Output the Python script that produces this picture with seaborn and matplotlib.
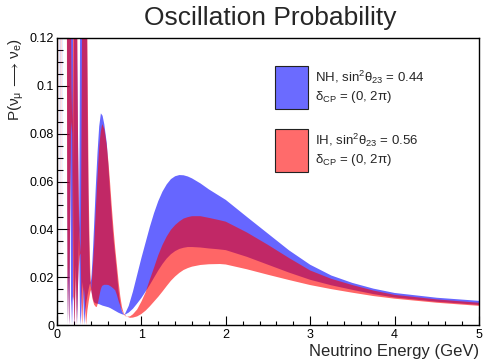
import numpy as np
import pandas as pd
import matplotlib
matplotlib.use("Agg")
import matplotlib.pyplot as plt
import seaborn as sns
from matplotlib.patches import Rectangle
from matplotlib.ticker import MultipleLocator

# ---------------- data ----------------
# NH band: energy (GeV), lower and upper edge of P(numu->nue) over delta_CP
nh_E = [0.010, 0.026, 0.0275, 0.029, 0.044, 0.0455, 0.047, 0.062, 0.0635, 0.065,
        0.116, 0.122, 0.128, 0.135, 0.142, 0.147, 0.153, 0.158, 0.163, 0.168,
        0.174, 0.180, 0.186, 0.189, 0.192, 0.195, 0.197, 0.200, 0.204, 0.207,
        0.213, 0.222, 0.230, 0.237, 0.244, 0.250, 0.256, 0.262, 0.266, 0.270,
        0.274, 0.282, 0.290, 0.300, 0.310, 0.318, 0.322, 0.330, 0.345, 0.355,
        0.362, 0.370, 0.378, 0.386, 0.395, 0.405, 0.410, 0.420, 0.430, 0.440,
        0.460, 0.480, 0.500, 0.520, 0.540, 0.560, 0.590, 0.610, 0.630, 0.650,
        0.670, 0.690, 0.710, 0.730, 0.750, 0.770, 0.790, 0.800, 0.850, 0.900,
        0.950, 1.000, 1.050, 1.100, 1.150, 1.200, 1.250, 1.300, 1.350, 1.400,
        1.450, 1.500, 1.550, 1.600, 1.700, 1.800, 1.900, 2.000, 2.250, 2.500,
        2.750, 3.000, 3.250, 3.500, 3.750, 4.000, 4.500, 5.000]
nh_lo = [0.200, 0.200, 0.000, 0.200, 0.200, 0.000, 0.200, 0.200, 0.000, 0.200,
         0.200, 0.050, 0.000, 0.020, 0.004, 0.000, 0.030, 0.070, 0.040, 0.000,
         0.008, 0.012, 0.003, 0.000, 0.025, 0.064, 0.035, 0.012, 0.002, 0.000,
         0.010, 0.025, 0.012, 0.000, 0.008, 0.018, 0.030, 0.040, 0.025, 0.012,
         0.004, 0.000, 0.008, 0.018, 0.014, 0.004, 0.000, 0.004, 0.009, 0.011,
         0.0125, 0.0140, 0.0155, 0.0168, 0.0175, 0.0150, 0.0138, 0.0120, 0.0105, 0.0095,
         0.0090, 0.0089, 0.0087, 0.0084, 0.0081, 0.0079, 0.0076, 0.0074, 0.0071, 0.0067,
         0.0063, 0.0059, 0.0055, 0.0051, 0.0048, 0.0045, 0.0043, 0.0042, 0.0052, 0.0068,
         0.0090, 0.0113, 0.0140, 0.0168, 0.0198, 0.0228, 0.0255, 0.0278, 0.0296, 0.0309,
         0.0318, 0.0323, 0.0326, 0.0326, 0.0324, 0.0320, 0.0317, 0.0313, 0.0285, 0.0252,
         0.0219, 0.0189, 0.0166, 0.0147, 0.0129, 0.0115, 0.0097, 0.0084]
nh_up = [0.300, 0.300, 0.300, 0.300, 0.300, 0.300, 0.300, 0.300, 0.300, 0.300,
         0.300, 0.300, 0.300, 0.300, 0.300, 0.300, 0.300, 0.300, 0.300, 0.300,
         0.300, 0.300, 0.300, 0.125, 0.095, 0.064, 0.085, 0.120, 0.300, 0.300,
         0.300, 0.300, 0.300, 0.125, 0.100, 0.075, 0.055, 0.040, 0.065, 0.095,
         0.125, 0.300, 0.300, 0.300, 0.300, 0.300, 0.300, 0.300, 0.300, 0.125,
         0.090, 0.060, 0.040, 0.026, 0.0175, 0.0190, 0.0210, 0.0270, 0.0340, 0.0420,
         0.0580, 0.0720, 0.0830, 0.0885, 0.0875, 0.0840, 0.0760, 0.0660, 0.0550, 0.0450,
         0.0360, 0.0290, 0.0220, 0.0140, 0.0090, 0.0058, 0.0045, 0.0042, 0.0080, 0.0140,
         0.0210, 0.0280, 0.0345, 0.0410, 0.0468, 0.0518, 0.0558, 0.0588, 0.0610, 0.0622,
         0.0627, 0.0626, 0.0621, 0.0613, 0.0592, 0.0567, 0.0545, 0.0523, 0.0452, 0.0382,
         0.0312, 0.0252, 0.0207, 0.0176, 0.0152, 0.0134, 0.0114, 0.0101]

# IH band
ih_E = [0.010, 0.020, 0.0215, 0.023, 0.038, 0.0395, 0.041, 0.056, 0.058, 0.060,
        0.114, 0.120, 0.126, 0.133, 0.140, 0.146, 0.152, 0.160, 0.166, 0.172,
        0.180, 0.186, 0.192, 0.200, 0.205, 0.210, 0.216, 0.224, 0.230, 0.235,
        0.242, 0.250, 0.260, 0.270, 0.280, 0.285, 0.290, 0.296, 0.300, 0.308,
        0.318, 0.328, 0.338, 0.345, 0.352, 0.360, 0.368, 0.376, 0.386, 0.395,
        0.405, 0.420, 0.440, 0.460, 0.470, 0.480, 0.490, 0.500, 0.510, 0.520,
        0.530, 0.537, 0.560, 0.570, 0.590, 0.610, 0.630, 0.650, 0.670, 0.690,
        0.710, 0.730, 0.750, 0.770, 0.790, 0.810, 0.830, 0.865, 0.900, 0.950,
        1.000, 1.050, 1.100, 1.150, 1.200, 1.250, 1.300, 1.350, 1.400, 1.450,
        1.500, 1.550, 1.600, 1.700, 1.800, 1.930, 2.000, 2.250, 2.500, 2.750,
        3.000, 3.250, 3.500, 3.750, 4.000, 4.500, 5.000]
ih_lo = [0.200, 0.200, 0.000, 0.200, 0.200, 0.000, 0.200, 0.200, 0.000, 0.200,
         0.200, 0.060, 0.000, 0.025, 0.005, 0.000, 0.030, 0.060, 0.080, 0.085,
         0.080, 0.040, 0.010, 0.012, 0.003, 0.000, 0.010, 0.020, 0.008, 0.000,
         0.008, 0.018, 0.025, 0.029, 0.030, 0.020, 0.010, 0.002, 0.000, 0.008,
         0.016, 0.012, 0.004, 0.000, 0.003, 0.006, 0.008, 0.010, 0.012, 0.0138,
         0.0148, 0.0110, 0.0085, 0.0076, 0.0075, 0.0085, 0.0100, 0.0118, 0.0135, 0.0150,
         0.0160, 0.0164, 0.0168, 0.0168, 0.0168, 0.0167, 0.0163, 0.0158, 0.0152, 0.0145,
         0.0125, 0.0100, 0.0080, 0.0060, 0.0045, 0.0037, 0.0035, 0.0030, 0.0031, 0.0036,
         0.0046, 0.0060, 0.0078, 0.0098, 0.0118, 0.0140, 0.0163, 0.0185, 0.0203, 0.0218,
         0.0230, 0.0238, 0.0244, 0.0251, 0.0254, 0.0255, 0.0253, 0.0233, 0.0210, 0.0188,
         0.0167, 0.0150, 0.0135, 0.0121, 0.0110, 0.0093, 0.0080]
ih_up = [0.300, 0.300, 0.300, 0.300, 0.300, 0.300, 0.300, 0.300, 0.300, 0.300,
         0.300, 0.300, 0.300, 0.300, 0.300, 0.300, 0.300, 0.300, 0.130, 0.100,
         0.085, 0.100, 0.130, 0.300, 0.300, 0.300, 0.300, 0.300, 0.300, 0.300,
         0.110, 0.075, 0.050, 0.036, 0.030, 0.050, 0.080, 0.120, 0.300, 0.300,
         0.300, 0.300, 0.300, 0.300, 0.300, 0.120, 0.085, 0.055, 0.035, 0.022,
         0.0148, 0.0220, 0.0330, 0.0480, 0.0550, 0.0620, 0.0680, 0.0740, 0.0780, 0.0810,
         0.0830, 0.0840, 0.0820, 0.0800, 0.0750, 0.0680, 0.0590, 0.0490, 0.0400, 0.0320,
         0.0250, 0.0180, 0.0120, 0.0075, 0.0050, 0.0040, 0.0035, 0.0036, 0.0045, 0.0065,
         0.0098, 0.0137, 0.0190, 0.0240, 0.0292, 0.0335, 0.0370, 0.0398, 0.0418, 0.0433,
         0.0445, 0.0451, 0.0455, 0.0455, 0.0448, 0.0438, 0.0432, 0.0387, 0.0335, 0.0280,
         0.0228, 0.0193, 0.0167, 0.0144, 0.0126, 0.0107, 0.0093]

legend_lines = [("NH, sin$^{2}\\theta_{23}$ = 0.44", "$\\delta_{CP}$ = (0, 2$\\pi$)"),
                ("IH, sin$^{2}\\theta_{23}$ = 0.56", "$\\delta_{CP}$ = (0, 2$\\pi$)")]
x_ticks = [0, 1, 2, 3, 4, 5]
y_ticks = [0, 0.02, 0.04, 0.06, 0.08, 0.1, 0.12]
y_ticklabels = ["0", "0.02", "0.04", "0.06", "0.08", "0.1", "0.12"]

# ---------------- long-form table: band = min..max per energy ----------------
rows = []
for name, E, lo, up in (("NH", nh_E, nh_lo, nh_up), ("IH", ih_E, ih_lo, ih_up)):
    for e, a, b in zip(E, lo, up):
        rows.append((name, e, a))
        rows.append((name, e, b))
df = pd.DataFrame(rows, columns=["hier", "E", "P"])

sns.set_theme(style="ticks")
plt.rcParams["font.family"] = ["Liberation Sans", "DejaVu Sans"]
plt.rcParams["mathtext.fontset"] = "custom"
plt.rcParams["mathtext.rm"] = "Liberation Sans"
plt.rcParams["mathtext.it"] = "Liberation Sans"
plt.rcParams["mathtext.bf"] = "Liberation Sans:bold"

fig = plt.figure(figsize=(4.83, 3.6), dpi=100)
ax = fig.add_axes([57 / 483, 1 - 325 / 360, 422 / 483, 287 / 360])

sns.lineplot(data=df, x="E", y="P", hue="hier", hue_order=["NH", "IH"],
             palette={"NH": "#0000FF", "IH": "#FF0000"},
             estimator="mean", errorbar=lambda v: (v.min(), v.max()),
             err_kws={"alpha": 0.6, "linewidth": 0}, linewidth=0, legend=False, ax=ax)

ax.set_xlim(0, 5)
ax.set_ylim(0, 0.12)
ax.set_xticks(x_ticks)
ax.set_xticklabels([str(t) for t in x_ticks])
ax.set_yticks(y_ticks)
ax.set_yticklabels(y_ticklabels)
ax.xaxis.set_minor_locator(MultipleLocator(0.2))
ax.yaxis.set_minor_locator(MultipleLocator(0.005))
ax.tick_params(axis="both", which="both", direction="in", labelsize=9, width=0.8,
               colors="black", top=False, right=False)
ax.tick_params(axis="y", which="major", length=8.5, pad=2)
ax.tick_params(axis="y", which="minor", length=4.3)
ax.tick_params(axis="x", which="major", length=6.5, pad=3)
ax.tick_params(axis="x", which="minor", length=3.2)
for s in ax.spines.values():
    s.set_color("black")
    s.set_linewidth(1.0)

ax.set_xlabel("Neutrino Energy (GeV)", fontsize=12, loc="right", labelpad=2)
ax.set_ylabel("P($\\nu_{\\mu}\\,\\longrightarrow\\,\\nu_{e}$)", fontsize=11, loc="top")
ax.yaxis.set_label_coords(-0.074, 1.0)

fig.text(270 / 483, 1 - 18 / 360, "Oscillation Probability", fontsize=19,
         ha="center", va="center")

# legend (manual)
boxes = [((0.517, 0.753), "#6B6BFF", 0.864, 0.794), ((0.517, 0.533), "#FF6B6B", 0.645, 0.575)]
for (xy, col, y1, y2), (t1, t2) in zip(boxes, legend_lines):
    ax.add_patch(Rectangle(xy, 0.078, 0.15, transform=ax.transAxes, facecolor=col,
                           edgecolor="#222222", linewidth=0.8, zorder=5))
    ax.text(0.611, y1, t1, transform=ax.transAxes, fontsize=9.5, va="center", ha="left")
    ax.text(0.611, y2, t2, transform=ax.transAxes, fontsize=9.5, va="center", ha="left")

fig.savefig("out.png", dpi=100)
